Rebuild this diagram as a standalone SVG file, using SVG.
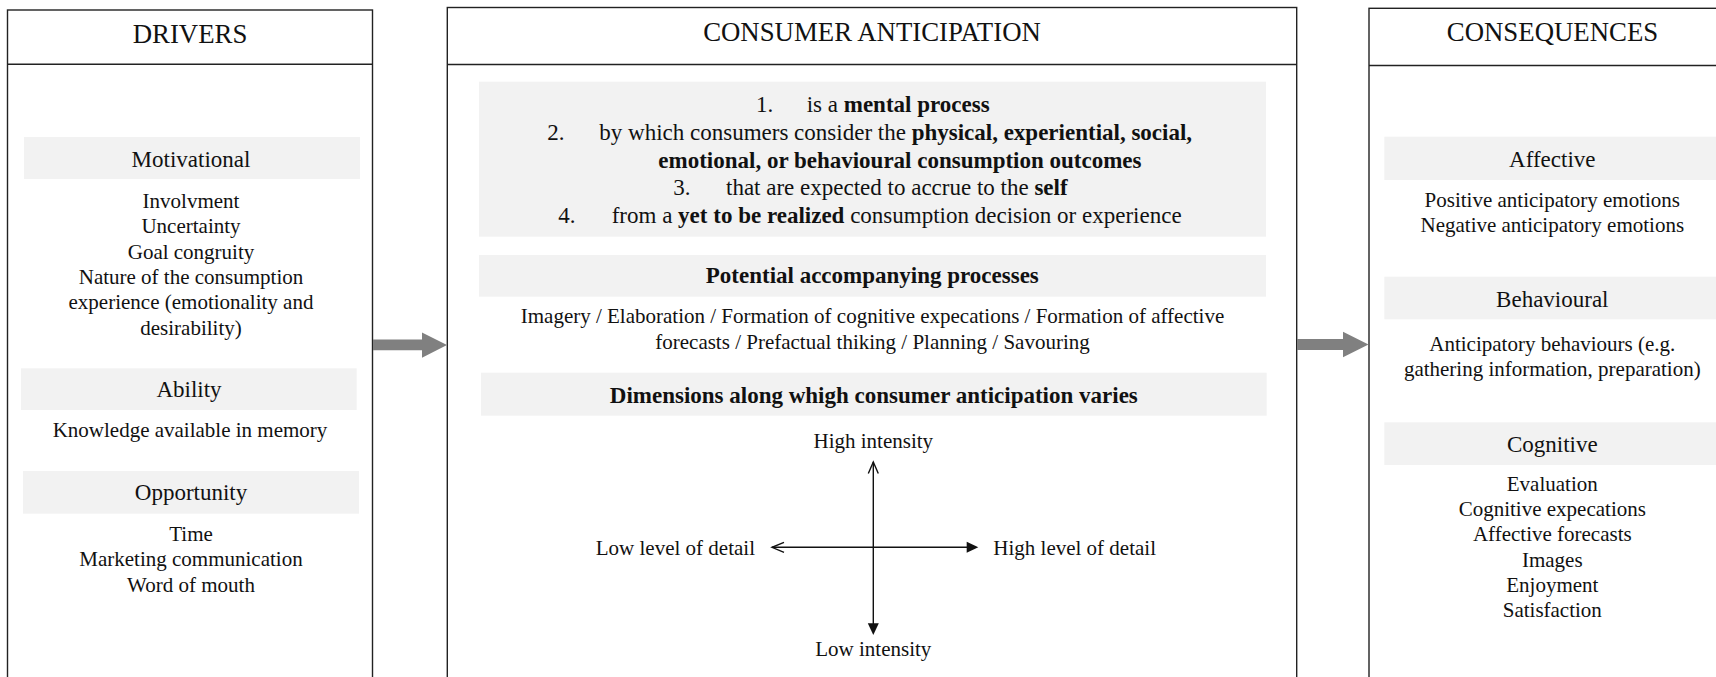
<svg xmlns="http://www.w3.org/2000/svg" width="1716" height="677" viewBox="0 0 1716 677">
<style>
text{font-family:"Liberation Serif","Times New Roman",serif;fill:#111;}
.hd{font-size:26.8px;text-anchor:middle;}
.sub{font-size:23px;text-anchor:middle;}
.bd{font-size:21px;text-anchor:middle;}
.ls{font-size:23px;}
.b{font-weight:bold;}
.box{fill:#fff;stroke:#222;stroke-width:1.4;}
.band{fill:#f2f2f2;stroke:none;}
.ax{stroke:#111;stroke-width:1.4;fill:none;}
.garrow{fill:#808080;}
</style>
<rect width="1716" height="677" fill="#fff"/>

<g id="drivers">
<rect class="box" x="7.5" y="10" width="365" height="700"/>
<line class="box" x1="7.5" y1="64.3" x2="372.5" y2="64.3"/>
<text class="hd" x="190" y="42.5">DRIVERS</text>
<rect class="band" x="24" y="137" width="336" height="42"/>
<text class="sub" x="191" y="166.5">Motivational</text>
<text class="bd" x="191" y="208">Involvment</text>
<text class="bd" x="191" y="233.3">Uncertainty</text>
<text class="bd" x="191" y="258.6">Goal congruity</text>
<text class="bd" x="191" y="284">Nature of the consumption</text>
<text class="bd" x="191" y="309.3">experience (emotionality and</text>
<text class="bd" x="191" y="334.6">desirability)</text>
<rect class="band" x="21" y="368.3" width="335.7" height="41.7"/>
<text class="sub" x="189" y="396.5">Ability</text>
<text class="bd" x="190" y="437.3">Knowledge available in memory</text>
<rect class="band" x="23" y="471" width="336" height="42.7"/>
<text class="sub" x="191" y="500">Opportunity</text>
<text class="bd" x="191" y="540.7">Time</text>
<text class="bd" x="191" y="566">Marketing communication</text>
<text class="bd" x="191" y="591.5">Word of mouth</text>
</g>

<g id="anticipation">
<rect class="box" x="447.3" y="7.5" width="849.4" height="700"/>
<line class="box" x1="447.3" y1="64.5" x2="1296.7" y2="64.5"/>
<text class="hd" x="872" y="41">CONSUMER ANTICIPATION</text>
<rect class="band" x="479" y="81.7" width="787" height="155"/>
<text class="ls" x="756" y="112.3">1.</text>
<text class="ls" x="806.7" y="112.3">is a <tspan class="b">mental process</tspan></text>
<text class="ls" x="547.3" y="140">2.</text>
<text class="ls" x="599.3" y="140">by which consumers consider the <tspan class="b">physical, experiential, social,</tspan></text>
<text class="ls b" x="658.3" y="167.7">emotional, or behavioural consumption outcomes</text>
<text class="ls" x="673.3" y="195">3.</text>
<text class="ls" x="726" y="195">that are expected to accrue to the <tspan class="b">self</tspan></text>
<text class="ls" x="558.3" y="222.7">4.</text>
<text class="ls" x="611.7" y="222.7">from a <tspan class="b">yet to be realized</tspan> consumption decision or experience</text>
<rect class="band" x="479" y="255" width="787" height="41.7"/>
<text class="sub b" x="872.3" y="283.3">Potential accompanying processes</text>
<text class="bd" x="872.5" y="323.3">Imagery / Elaboration / Formation of cognitive expecations / Formation of affective</text>
<text class="bd" x="872.5" y="348.5">forecasts / Prefactual thiking / Planning / Savouring</text>
<rect class="band" x="481" y="372.7" width="785.7" height="43"/>
<text class="sub b" x="873.8" y="402.7">Dimensions along whigh consumer anticipation varies</text>
<text class="bd" x="873.3" y="448.3">High intensity</text>
<text class="bd" x="873.3" y="656">Low intensity</text>
<text class="bd" x="755" y="555" style="text-anchor:end">Low level of detail</text>
<text class="bd" x="993.3" y="555" style="text-anchor:start">High level of detail</text>
</g>

<g id="consequences">
<rect class="box" x="1369" y="8.3" width="400" height="700"/>
<line class="box" x1="1369" y1="65.5" x2="1716" y2="65.5"/>
<text class="hd" x="1552.5" y="41">CONSEQUENCES</text>
<rect class="band" x="1384.3" y="136.7" width="340" height="43.3"/>
<text class="sub" x="1552.3" y="166.5">Affective</text>
<text class="bd" x="1552.3" y="206.7">Positive anticipatory emotions</text>
<text class="bd" x="1552.3" y="231.7">Negative anticipatory emotions</text>
<rect class="band" x="1384.3" y="276.7" width="340" height="42.6"/>
<text class="sub" x="1552.3" y="306.5">Behavioural</text>
<text class="bd" x="1552.3" y="350.7">Anticipatory behaviours (e.g.</text>
<text class="bd" x="1552.3" y="376">gathering information, preparation)</text>
<rect class="band" x="1384.3" y="422.3" width="340" height="42.7"/>
<text class="sub" x="1552.3" y="451.5">Cognitive</text>
<text class="bd" x="1552.3" y="491">Evaluation</text>
<text class="bd" x="1552.3" y="516.2">Cognitive expecations</text>
<text class="bd" x="1552.3" y="541.4">Affective forecasts</text>
<text class="bd" x="1552.3" y="566.6">Images</text>
<text class="bd" x="1552.3" y="591.8">Enjoyment</text>
<text class="bd" x="1552.3" y="617">Satisfaction</text>
</g>

<g id="connectors">
<polygon class="garrow" points="373,339.5 422,339.5 422,332.5 447,345 422,357.8 422,350.3 373,350.3"/>
<polygon class="garrow" points="1297,339 1343,339 1343,331.8 1368.5,344.5 1343,357.3 1343,350 1297,350"/>
<line class="ax" x1="873.3" y1="462" x2="873.3" y2="624"/>
<polyline class="ax" points="868.3,473.5 873.3,462 878.3,473.5"/>
<polygon fill="#111" points="867.8,623.3 878.8,623.3 873.3,635"/>
<line class="ax" x1="772" y1="547.3" x2="967" y2="547.3"/>
<polyline class="ax" points="784,542.3 772,547.3 784,552.3"/>
<polygon fill="#111" points="966.7,541.8 966.7,552.8 978.3,547.3"/>
</g>
</svg>
